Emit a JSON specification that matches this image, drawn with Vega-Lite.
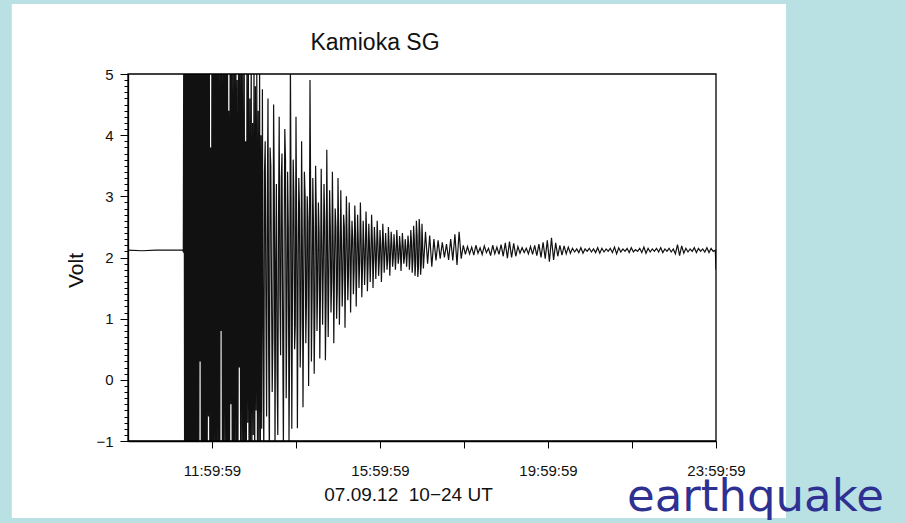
{
  "$schema": "https://vega.github.io/schema/vega-lite/v6.json",
  "autosize": "none",
  "width": 588,
  "height": 367,
  "padding": {"left": 128, "top": 74, "right": 190, "bottom": 82},
  "background": "#ffffff",
  "title": {
    "text": "Kamioka SG",
    "font": "Liberation Sans",
    "fontSize": 23,
    "fontWeight": "normal",
    "color": "#111111",
    "anchor": "middle",
    "frame": "group",
    "dx": -47,
    "offset": -75.5,
    "baseline": "alphabetic",
    "zindex": 1
  },
  "resolve": {"axis": {"y": "independent"}},
  "config": {
    "view": {"stroke": null},
    "axis": {
      "domainColor": "#000000",
      "domainWidth": 1.3,
      "tickColor": "#000000",
      "tickWidth": 1,
      "labelColor": "#111111",
      "titleColor": "#111111",
      "grid": false,
      "zindex": 1
    }
  },
  "datasets": {
    "trace": [
      {"m": 0, "v": 2.12}, {"m": 20, "v": 2.11}, {"m": 40, "v": 2.12}, {"m": 60, "v": 2.12}, {"m": 78, "v": 2.12},
      {"m": 79, "v": 2.1}, {"m": 80, "v": 7.5}, {"m": 81, "v": -3.0}, {"m": 82, "v": 8.2}, {"m": 83, "v": -3.8},
      {"m": 84, "v": 6.9}, {"m": 85, "v": -2.6}, {"m": 86, "v": 7.8}, {"m": 87, "v": -3.4}, {"m": 88, "v": 5.6},
      {"m": 89, "v": -1.9}, {"m": 90, "v": 8.4}, {"m": 91, "v": -4.1}, {"m": 92, "v": 7.0}, {"m": 93, "v": -2.2},
      {"m": 94, "v": 6.3}, {"m": 95, "v": -3.5}, {"m": 96, "v": 7.7}, {"m": 97, "v": -1.4}, {"m": 98, "v": 5.9},
      {"m": 99, "v": -3.0}, {"m": 100, "v": 8.0}, {"m": 101, "v": -2.7}, {"m": 102, "v": 6.6}, {"m": 103, "v": 0.3},
      {"m": 104, "v": 7.3}, {"m": 105, "v": -3.6}, {"m": 106, "v": 6.1}, {"m": 107, "v": -2.0}, {"m": 108, "v": 7.9},
      {"m": 109, "v": -3.3}, {"m": 110, "v": 5.4}, {"m": 111, "v": -1.7}, {"m": 112, "v": 7.1}, {"m": 113, "v": -2.9},
      {"m": 114, "v": 6.4}, {"m": 115, "v": -0.6}, {"m": 116, "v": 7.6}, {"m": 117, "v": -3.1}, {"m": 118, "v": 3.8},
      {"m": 119, "v": -2.3}, {"m": 120, "v": 6.8}, {"m": 121, "v": -2.8}, {"m": 122, "v": 5.7}, {"m": 123, "v": -1.2},
      {"m": 124, "v": 7.2}, {"m": 125, "v": -3.2}, {"m": 126, "v": 6.0}, {"m": 127, "v": -2.4}, {"m": 128, "v": 6.9},
      {"m": 129, "v": -1.5}, {"m": 130, "v": 5.3}, {"m": 131, "v": -2.7}, {"m": 132, "v": 6.7}, {"m": 133, "v": 0.8},
      {"m": 134, "v": 6.2}, {"m": 135, "v": -2.9}, {"m": 136, "v": 5.8}, {"m": 137, "v": -2.0}, {"m": 138, "v": 6.5},
      {"m": 139, "v": -1.1}, {"m": 140, "v": 5.5}, {"m": 141, "v": -2.6}, {"m": 142, "v": 7.0}, {"m": 143, "v": -1.8},
      {"m": 144, "v": 4.4}, {"m": 145, "v": -2.4}, {"m": 146, "v": 6.3}, {"m": 147, "v": -0.4}, {"m": 148, "v": 5.6},
      {"m": 149, "v": -2.8}, {"m": 150, "v": 6.1}, {"m": 151, "v": -1.6}, {"m": 152, "v": 5.2}, {"m": 153, "v": -2.2},
      {"m": 154, "v": 6.6}, {"m": 155, "v": -1.3}, {"m": 156, "v": 4.9}, {"m": 157, "v": -2.5}, {"m": 158, "v": 5.9},
      {"m": 159, "v": 0.2}, {"m": 160, "v": 5.4}, {"m": 161, "v": -2.1}, {"m": 162, "v": 6.2}, {"m": 163, "v": -1.0},
      {"m": 164, "v": 5.0}, {"m": 165, "v": -2.3}, {"m": 166, "v": 5.7}, {"m": 167, "v": -1.4}, {"m": 168, "v": 3.9},
      {"m": 169, "v": -1.9}, {"m": 170, "v": 5.8}, {"m": 171, "v": -0.7}, {"m": 172, "v": 5.3}, {"m": 173, "v": -2.0},
      {"m": 174, "v": 4.6}, {"m": 175, "v": -1.2}, {"m": 176, "v": 5.6}, {"m": 177, "v": -1.7}, {"m": 178, "v": 4.2},
      {"m": 179, "v": -0.9}, {"m": 180, "v": 5.4}, {"m": 181, "v": -1.8}, {"m": 182, "v": 4.8}, {"m": 183, "v": -0.5},
      {"m": 184, "v": 5.1}, {"m": 185, "v": -1.5}, {"m": 186, "v": 4.4}, {"m": 187, "v": -1.1}, {"m": 188, "v": 5.3},
      {"m": 189, "v": -1.6}, {"m": 190, "v": 4.0}, {"m": 191, "v": -0.8},
      {"m": 192, "v": 4.75}, {"m": 193, "v": 0.9}, {"m": 194, "v": -1.3}, {"m": 195, "v": 3.4}, {"m": 196, "v": 3.9},
      {"m": 197, "v": 1.2}, {"m": 198, "v": -0.6}, {"m": 199, "v": 2.9}, {"m": 200, "v": 4.6}, {"m": 201, "v": 0.4},
      {"m": 202, "v": -1.4}, {"m": 203, "v": 3.8}, {"m": 204, "v": 3.5}, {"m": 205, "v": 1.6}, {"m": 206, "v": -0.2},
      {"m": 207, "v": 0.7}, {"m": 208, "v": 4.5}, {"m": 209, "v": 3.1}, {"m": 210, "v": -1.2}, {"m": 211, "v": 1.9},
      {"m": 212, "v": 3.2}, {"m": 213, "v": 0.1}, {"m": 214, "v": -0.9}, {"m": 215, "v": 2.6}, {"m": 216, "v": 4.3},
      {"m": 217, "v": 1.4}, {"m": 218, "v": 0.4}, {"m": 219, "v": 3.3}, {"m": 220, "v": 3.7}, {"m": 221, "v": 0.8},
      {"m": 222, "v": -1.1}, {"m": 223, "v": 2.2}, {"m": 224, "v": 4.1}, {"m": 225, "v": 3.6}, {"m": 226, "v": -0.3},
      {"m": 227, "v": 1.1}, {"m": 228, "v": 3.4}, {"m": 229, "v": 2.5}, {"m": 230, "v": -1.0}, {"m": 231, "v": 0.6},
      {"m": 232, "v": 5.2}, {"m": 233, "v": 2.9}, {"m": 234, "v": -0.8}, {"m": 235, "v": 1.5}, {"m": 236, "v": 3.6},
      {"m": 237, "v": 3.0}, {"m": 238, "v": 0.5}, {"m": 239, "v": 0.9}, {"m": 240, "v": 4.3}, {"m": 241, "v": 2.4},
      {"m": 242, "v": -0.79}, {"m": 243, "v": 1.7}, {"m": 244, "v": 3.3}, {"m": 245, "v": 2.8}, {"m": 246, "v": 0.2},
      {"m": 247, "v": 1.0}, {"m": 248, "v": 3.9}, {"m": 249, "v": 2.3}, {"m": 250, "v": -0.45}, {"m": 251, "v": 1.6},
      {"m": 252, "v": 3.4}, {"m": 253, "v": 3.0}, {"m": 254, "v": 0.6}, {"m": 255, "v": 1.3}, {"m": 256, "v": 3.0},
      {"m": 257, "v": 2.6}, {"m": 258, "v": -0.1}, {"m": 259, "v": 1.8}, {"m": 260, "v": 4.9}, {"m": 261, "v": 2.9},
      {"m": 262, "v": 0.3}, {"m": 263, "v": 1.4}, {"m": 264, "v": 3.3}, {"m": 265, "v": 2.5}, {"m": 266, "v": 0.1},
      {"m": 267, "v": 1.2}, {"m": 268, "v": 3.5}, {"m": 269, "v": 2.7}, {"m": 270, "v": 0.8}, {"m": 271, "v": 1.6},
      {"m": 272, "v": 2.9}, {"m": 273, "v": 2.4}, {"m": 274, "v": 0.35}, {"m": 275, "v": 1.5}, {"m": 276, "v": 3.45},
      {"m": 277, "v": 2.3}, {"m": 278, "v": 0.9}, {"m": 279, "v": 1.9}, {"m": 280, "v": 3.2}, {"m": 281, "v": 2.6},
      {"m": 282, "v": 0.32}, {"m": 283, "v": 1.3}, {"m": 284, "v": 3.76}, {"m": 285, "v": 2.2}, {"m": 286, "v": 0.7},
      {"m": 287, "v": 1.8}, {"m": 288, "v": 3.1}, {"m": 289, "v": 2.5}, {"m": 290, "v": 1.1}, {"m": 291, "v": 1.6},
      {"m": 292, "v": 3.4}, {"m": 293, "v": 2.3}, {"m": 294, "v": 0.6}, {"m": 295, "v": 1.9}, {"m": 296, "v": 2.8},
      {"m": 297, "v": 2.5}, {"m": 298, "v": 1.0}, {"m": 299, "v": 1.5}, {"m": 300, "v": 3.3}, {"m": 301, "v": 2.4},
      {"m": 302, "v": 0.9}, {"m": 303, "v": 1.8}, {"m": 304, "v": 3.1}, {"m": 305, "v": 2.2}, {"m": 306, "v": 1.2},
      {"m": 307, "v": 1.7}, {"m": 308, "v": 2.7}, {"m": 309, "v": 2.5}, {"m": 310, "v": 0.85}, {"m": 311, "v": 1.9},
      {"m": 312, "v": 3.0}, {"m": 313, "v": 2.3}, {"m": 314, "v": 1.3}, {"m": 315, "v": 1.75}, {"m": 316, "v": 2.9},
      {"m": 317, "v": 2.35}, {"m": 318, "v": 1.1}, {"m": 319, "v": 2.0}, {"m": 320, "v": 2.6}, {"m": 321, "v": 2.3},
      {"m": 322, "v": 1.4}, {"m": 323, "v": 1.8}, {"m": 324, "v": 2.85}, {"m": 325, "v": 2.4}, {"m": 326, "v": 1.2},
      {"m": 327, "v": 1.9}, {"m": 328, "v": 2.7}, {"m": 329, "v": 2.25}, {"m": 330, "v": 1.5}, {"m": 331, "v": 1.95},
      {"m": 332, "v": 2.9}, {"m": 333, "v": 2.3}, {"m": 334, "v": 1.35}, {"m": 335, "v": 1.85}, {"m": 336, "v": 2.6},
      {"m": 337, "v": 2.2}, {"m": 338, "v": 1.55}, {"m": 339, "v": 2.0}, {"m": 340, "v": 2.75}, {"m": 341, "v": 2.35},
      {"m": 342, "v": 1.45}, {"m": 343, "v": 1.9}, {"m": 344, "v": 2.55}, {"m": 345, "v": 2.2}, {"m": 346, "v": 1.6},
      {"m": 347, "v": 2.0}, {"m": 348, "v": 2.7}, {"m": 349, "v": 2.3}, {"m": 350, "v": 1.5}, {"m": 351, "v": 1.95},
      {"m": 352, "v": 2.5}, {"m": 353, "v": 2.2}, {"m": 354, "v": 1.65}, {"m": 355, "v": 2.05}, {"m": 356, "v": 2.6},
      {"m": 357, "v": 2.25}, {"m": 358, "v": 1.7}, {"m": 359, "v": 1.95}, {"m": 360, "v": 2.45}, {"m": 361, "v": 2.2},
      {"m": 362, "v": 1.6}, {"m": 363, "v": 2.0}, {"m": 364, "v": 2.55}, {"m": 365, "v": 2.25}, {"m": 366, "v": 1.75},
      {"m": 367, "v": 2.05}, {"m": 368, "v": 2.4}, {"m": 369, "v": 2.15}, {"m": 370, "v": 1.8}, {"m": 371, "v": 1.95},
      {"m": 372, "v": 2.5}, {"m": 373, "v": 2.2}, {"m": 374, "v": 1.7}, {"m": 375, "v": 2.05}, {"m": 376, "v": 2.42},
      {"m": 377, "v": 2.2}, {"m": 378, "v": 1.85}, {"m": 379, "v": 2.0}, {"m": 380, "v": 2.38}, {"m": 381, "v": 2.15},
      {"m": 382, "v": 1.8}, {"m": 383, "v": 2.05}, {"m": 384, "v": 2.45}, {"m": 385, "v": 2.2}, {"m": 386, "v": 1.9},
      {"m": 387, "v": 2.0}, {"m": 388, "v": 2.35}, {"m": 389, "v": 2.18}, {"m": 390, "v": 1.78}, {"m": 391, "v": 2.05},
      {"m": 392, "v": 2.4}, {"m": 393, "v": 2.2}, {"m": 394, "v": 1.9}, {"m": 395, "v": 2.0}, {"m": 396, "v": 2.3},
      {"m": 397, "v": 2.15}, {"m": 398, "v": 1.85}, {"m": 399, "v": 2.08}, {"m": 400, "v": 2.36}, {"m": 401, "v": 2.2},
      {"m": 402, "v": 1.8}, {"m": 403, "v": 2.02}, {"m": 404, "v": 2.45}, {"m": 405, "v": 2.25}, {"m": 406, "v": 1.75},
      {"m": 407, "v": 1.95}, {"m": 408, "v": 2.52}, {"m": 409, "v": 2.3}, {"m": 410, "v": 1.7}, {"m": 411, "v": 1.9},
      {"m": 412, "v": 2.6}, {"m": 413, "v": 2.35}, {"m": 414, "v": 1.68}, {"m": 415, "v": 1.85}, {"m": 416, "v": 2.63},
      {"m": 417, "v": 2.4}, {"m": 418, "v": 1.72}, {"m": 419, "v": 1.9}, {"m": 420, "v": 2.55},
      {"m": 422, "v": 1.82}, {"m": 425, "v": 2.42}, {"m": 428, "v": 1.9}, {"m": 431, "v": 2.36}, {"m": 434, "v": 1.85},
      {"m": 437, "v": 2.3}, {"m": 440, "v": 1.95}, {"m": 443, "v": 2.28}, {"m": 446, "v": 1.98}, {"m": 449, "v": 2.25},
      {"m": 452, "v": 2.0}, {"m": 455, "v": 2.22}, {"m": 458, "v": 1.96}, {"m": 461, "v": 2.3}, {"m": 464, "v": 1.95},
      {"m": 467, "v": 2.38}, {"m": 470, "v": 1.88}, {"m": 473, "v": 2.42}, {"m": 476, "v": 1.98}, {"m": 479, "v": 2.2},
      {"m": 482, "v": 2.05}, {"m": 485, "v": 2.18}, {"m": 488, "v": 2.06}, {"m": 491, "v": 2.17}, {"m": 494, "v": 2.04},
      {"m": 497, "v": 2.2}, {"m": 500, "v": 2.07}, {"m": 503, "v": 2.16}, {"m": 506, "v": 2.05}, {"m": 509, "v": 2.19},
      {"m": 512, "v": 2.08}, {"m": 515, "v": 2.15}, {"m": 518, "v": 2.03}, {"m": 521, "v": 2.2}, {"m": 524, "v": 2.06},
      {"m": 527, "v": 2.17}, {"m": 530, "v": 2.05}, {"m": 533, "v": 2.21}, {"m": 536, "v": 2.02}, {"m": 539, "v": 2.24},
      {"m": 542, "v": 1.99}, {"m": 545, "v": 2.26}, {"m": 548, "v": 2.0}, {"m": 551, "v": 2.23}, {"m": 554, "v": 2.02},
      {"m": 557, "v": 2.18}, {"m": 560, "v": 2.07}, {"m": 563, "v": 2.16}, {"m": 566, "v": 2.08}, {"m": 569, "v": 2.15},
      {"m": 572, "v": 2.06}, {"m": 575, "v": 2.18}, {"m": 578, "v": 2.05}, {"m": 581, "v": 2.2}, {"m": 584, "v": 2.03},
      {"m": 587, "v": 2.22}, {"m": 590, "v": 2.0}, {"m": 593, "v": 2.25}, {"m": 596, "v": 1.98}, {"m": 599, "v": 2.28},
      {"m": 602, "v": 1.93}, {"m": 605, "v": 2.32}, {"m": 608, "v": 1.96}, {"m": 611, "v": 2.24}, {"m": 614, "v": 2.02},
      {"m": 617, "v": 2.2}, {"m": 620, "v": 2.04}, {"m": 623, "v": 2.19}, {"m": 626, "v": 2.06}, {"m": 629, "v": 2.17},
      {"m": 632, "v": 2.07}, {"m": 635, "v": 2.15}, {"m": 638, "v": 2.09}, {"m": 641, "v": 2.14}, {"m": 644, "v": 2.08},
      {"m": 647, "v": 2.16}, {"m": 650, "v": 2.07}, {"m": 653, "v": 2.14}, {"m": 656, "v": 2.1}, {"m": 659, "v": 2.15},
      {"m": 662, "v": 2.09}, {"m": 665, "v": 2.14}, {"m": 668, "v": 2.08}, {"m": 671, "v": 2.16}, {"m": 674, "v": 2.07},
      {"m": 677, "v": 2.15}, {"m": 680, "v": 2.09}, {"m": 683, "v": 2.14}, {"m": 686, "v": 2.1}, {"m": 689, "v": 2.15},
      {"m": 692, "v": 2.08}, {"m": 695, "v": 2.17}, {"m": 698, "v": 2.06}, {"m": 701, "v": 2.16}, {"m": 704, "v": 2.09},
      {"m": 707, "v": 2.14}, {"m": 710, "v": 2.1}, {"m": 713, "v": 2.15}, {"m": 716, "v": 2.08}, {"m": 719, "v": 2.16},
      {"m": 722, "v": 2.09}, {"m": 725, "v": 2.13}, {"m": 728, "v": 2.1}, {"m": 731, "v": 2.15}, {"m": 734, "v": 2.08},
      {"m": 737, "v": 2.17}, {"m": 740, "v": 2.07}, {"m": 743, "v": 2.15}, {"m": 746, "v": 2.09}, {"m": 749, "v": 2.14},
      {"m": 752, "v": 2.1}, {"m": 755, "v": 2.15}, {"m": 758, "v": 2.09}, {"m": 761, "v": 2.16}, {"m": 764, "v": 2.08},
      {"m": 767, "v": 2.14}, {"m": 770, "v": 2.1}, {"m": 773, "v": 2.15}, {"m": 776, "v": 2.09}, {"m": 779, "v": 2.14},
      {"m": 782, "v": 2.06}, {"m": 785, "v": 2.21}, {"m": 788, "v": 2.03}, {"m": 791, "v": 2.19}, {"m": 794, "v": 2.07},
      {"m": 797, "v": 2.15}, {"m": 800, "v": 2.09}, {"m": 803, "v": 2.14}, {"m": 806, "v": 2.1}, {"m": 809, "v": 2.16},
      {"m": 812, "v": 2.08}, {"m": 815, "v": 2.15}, {"m": 818, "v": 2.1}, {"m": 821, "v": 2.14}, {"m": 824, "v": 2.09},
      {"m": 827, "v": 2.16}, {"m": 830, "v": 2.08}, {"m": 833, "v": 2.15}, {"m": 836, "v": 2.1}, {"m": 839, "v": 2.12},
      {"m": 840, "v": 1.8}
    ],
    "one": [{}]
  },
  "layer": [
    {
      "description": "seismometer voltage trace",
      "data": {"name": "trace"},
      "mark": {"type": "line", "stroke": "#111111", "strokeWidth": 1.2, "clip": true, "interpolate": "linear"},
      "encoding": {
        "x": {
          "field": "m",
          "type": "quantitative",
          "scale": {"domain": [0, 840], "nice": false, "zero": false},
          "axis": {
            "title": "07.09.12\u00a0 10−24 UT",
            "titleFont": "Liberation Sans",
            "titleFontSize": 19,
            "titleFontWeight": "normal",
            "titleX": 280,
            "titleY": 59,
            "titleAlign": "center",
            "titleBaseline": "alphabetic",
            "values": [120, 240, 360, 480, 600, 720, 840],
            "labelExpr": "datum.value == 120 ? '11:59:59' : datum.value == 360 ? '15:59:59' : datum.value == 600 ? '19:59:59' : datum.value == 840 ? '23:59:59' : ''",
            "labelFont": "Liberation Sans",
            "labelFontSize": 15,
            "labelPadding": 15,
            "labelBaseline": "top",
            "labelOverlap": false,
            "labelFlush": false,
            "labelBound": false,
            "tickSize": 7
          }
        },
        "y": {
          "field": "v",
          "type": "quantitative",
          "scale": {"domain": [-1, 5], "nice": false, "zero": false},
          "axis": {
            "orient": "left",
            "title": "Volt",
            "titleFont": "Liberation Sans",
            "titleFontSize": 21,
            "titleFontWeight": "normal",
            "titleX": -46,
            "titleY": 196,
            "titleAlign": "center",
            "titleBaseline": "alphabetic",
            "titleAngle": 270,
            "values": [-1, 0, 1, 2, 3, 4, 5],
            "format": "d",
            "labelFont": "Liberation Sans",
            "labelFontSize": 15,
            "labelPadding": 7,
            "labelOverlap": false,
            "labelFlush": false,
            "labelBound": false,
            "tickSize": 8
          }
        }
      }
    },
    {
      "description": "plot frame, carrying the minor voltage ticks",
      "data": {"name": "one"},
      "mark": {"type": "rect", "filled": false, "stroke": "#000000", "strokeWidth": 1.3, "clip": false},
      "encoding": {
        "x": {"datum": 0, "type": "quantitative"},
        "x2": {"datum": 840},
        "y": {
          "datum": -1,
          "type": "quantitative",
          "axis": {
            "orient": "left",
            "title": null,
            "labels": false,
            "domain": false,
            "tickSize": 4,
            "values": [-0.9, -0.8, -0.7, -0.6, -0.5, -0.4, -0.3, -0.2, -0.1, 0.1, 0.2, 0.3, 0.4, 0.5, 0.6, 0.7, 0.8, 0.9, 1.1, 1.2, 1.3, 1.4, 1.5, 1.6, 1.7, 1.8, 1.9, 2.1, 2.2, 2.3, 2.4, 2.5, 2.6, 2.7, 2.8, 2.9, 3.1, 3.2, 3.3, 3.4, 3.5, 3.6, 3.7, 3.8, 3.9, 4.1, 4.2, 4.3, 4.4, 4.5, 4.6, 4.7, 4.8, 4.9]
          }
        },
        "y2": {"datum": 5}
      }
    },
    {
      "description": "slide backdrop, right band",
      "data": {"name": "one"},
      "mark": {"type": "rect", "fill": "#b9e0e3", "clip": false},
      "encoding": {
        "x": {"datum": 940, "type": "quantitative"},
        "x2": {"datum": 1120},
        "y": {"datum": 6.25, "type": "quantitative", "axis": null},
        "y2": {"datum": -2.45}
      }
    },
    {
      "description": "slide backdrop, left band",
      "data": {"name": "one"},
      "mark": {"type": "rect", "fill": "#b9e0e3", "clip": false},
      "encoding": {
        "x": {"datum": -190, "type": "quantitative"},
        "x2": {"datum": -166},
        "y": {"datum": 6.25, "type": "quantitative", "axis": null},
        "y2": {"datum": -2.45}
      }
    },
    {
      "description": "slide backdrop, top band",
      "data": {"name": "one"},
      "mark": {"type": "rect", "fill": "#b9e0e3", "clip": false},
      "encoding": {
        "x": {"datum": -190, "type": "quantitative"},
        "x2": {"datum": 1120},
        "y": {"datum": 6.25, "type": "quantitative", "axis": null},
        "y2": {"datum": 6.144}
      }
    },
    {
      "description": "slide backdrop, bottom band",
      "data": {"name": "one"},
      "mark": {"type": "rect", "fill": "#b9e0e3", "clip": false},
      "encoding": {
        "x": {"datum": -190, "type": "quantitative"},
        "x2": {"datum": 1120},
        "y": {"datum": -2.259, "type": "quantitative", "axis": null},
        "y2": {"datum": -2.45}
      }
    },
    {
      "description": "caption word",
      "data": {"name": "one"},
      "mark": {"type": "text", "text": "earthquake", "font": "DejaVu Sans", "fontSize": 45, "color": "#2e3192", "align": "left", "baseline": "alphabetic", "clip": false},
      "encoding": {
        "x": {"datum": 713, "type": "quantitative"},
        "y": {"datum": -2.14, "type": "quantitative", "axis": null}
      }
    }
  ]
}
